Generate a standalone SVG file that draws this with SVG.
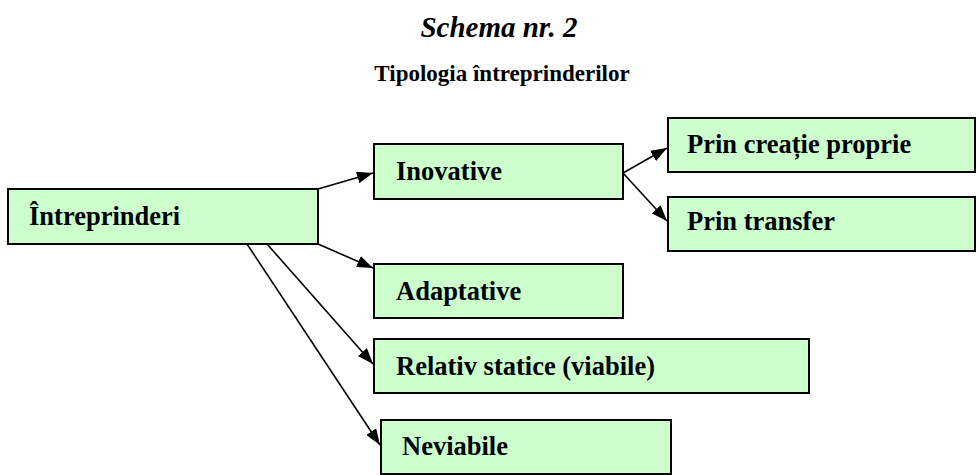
<svg xmlns="http://www.w3.org/2000/svg" width="978" height="475" viewBox="0 0 978 475">
<defs>
<style>
.box{fill:#ccffcc;stroke:#000;stroke-width:2}
text{font-family:"Liberation Serif","Times New Roman",serif;font-weight:bold;fill:#000}
.lbl{font-size:26.5px}
.title{font-style:italic;font-size:29px}
.sub{font-size:23px}
.edge{stroke:#000;stroke-width:1.6;fill:none;marker-end:url(#ah)}
</style>
<marker id="ah" viewBox="0 0 16 12" refX="16" refY="6" markerWidth="16" markerHeight="12" markerUnits="userSpaceOnUse" orient="auto">
<path d="M0,0 L16,6 L0,12 z" fill="#000"/>
</marker>
</defs>
<rect width="978" height="475" fill="#fff"/>
<text class="title" x="499" y="37" text-anchor="middle">Schema nr. 2</text>
<text class="sub" x="502" y="81" text-anchor="middle">Tipologia întreprinderilor</text>
<g id="connectors">
<line class="edge" x1="318" y1="189" x2="373" y2="173"/>
<line class="edge" x1="318" y1="244" x2="373" y2="268"/>
<line class="edge" x1="267" y1="244" x2="373" y2="364"/>
<line class="edge" x1="247" y1="244" x2="380" y2="445"/>
<line class="edge" x1="623" y1="173" x2="667" y2="148"/>
<line class="edge" x1="623" y1="173" x2="667" y2="221"/>
</g>
<g id="n-intreprinderi"><rect class="box" x="8" y="189" width="310" height="55"/><text class="lbl" x="29" y="225">Întreprinderi</text></g>
<g id="n-inovative"><rect class="box" x="374" y="144" width="249" height="55"/><text class="lbl" x="396" y="180">Inovative</text></g>
<g id="n-creatie"><rect class="box" x="668" y="118" width="307" height="54"/><text class="lbl" x="687" y="153">Prin creație proprie</text></g>
<g id="n-transfer"><rect class="box" x="668" y="197" width="307" height="54"/><text class="lbl" x="687" y="230">Prin transfer</text></g>
<g id="n-adaptative"><rect class="box" x="374" y="264" width="249" height="54"/><text class="lbl" x="396" y="300">Adaptative</text></g>
<g id="n-relativ"><rect class="box" x="374" y="339" width="435" height="54"/><text class="lbl" x="396" y="375">Relativ statice (viabile)</text></g>
<g id="n-neviabile"><rect class="box" x="381" y="420" width="290" height="54"/><text class="lbl" x="402" y="455">Neviabile</text></g>
</svg>
